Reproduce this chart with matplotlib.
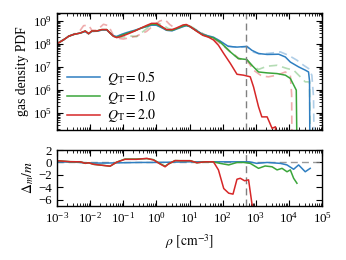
import numpy as np
import matplotlib
matplotlib.use("Agg")
import matplotlib.pyplot as plt
from matplotlib.ticker import LogLocator, NullFormatter

plt.rcParams['font.family'] = ['Liberation Serif', 'DejaVu Serif']
plt.rcParams['mathtext.fontset'] = 'stix'
plt.rcParams['font.size'] = 9

# ---------------- data (log10 values) ----------------
labels = [r'$Q_\mathrm{T} = 0.5$', r'$Q_\mathrm{T} = 1.0$', r'$Q_\mathrm{T} = 2.0$']
colors = ['#2f7fc1', '#3aa53a', '#d62728']

low_x = [-3.0, -2.8, -2.65, -2.5, -2.3, -2.15, -2.05, -1.95, -1.8, -1.65, -1.5, -1.4, -1.3,
         -1.2, -1.05, -0.9, -0.65, -0.45, -0.3, -0.15, 0.0, 0.15, 0.3, 0.47, 0.62, 0.8, 0.9,
         1.0, 1.2, 1.4, 1.57, 1.72]

# solid curves: log10 PDF
red_x = low_x + [1.87, 2.03, 2.23, 2.43, 2.63, 2.83, 2.93, 3.08, 3.18, 3.34, 3.49, 3.59, 3.63]
red_y = [8.02, 8.19, 8.34, 8.42, 8.48, 8.57, 8.45, 8.57, 8.57, 8.63, 8.63, 8.48, 8.34,
         8.28, 8.34, 8.42, 8.57, 8.71, 8.81, 8.90, 8.90, 8.77, 8.63, 8.63, 8.71, 8.83, 8.85,
         8.78, 8.57, 8.38, 8.30, 8.18,
         7.95, 7.59, 7.16, 6.69, 6.65, 6.58, 6.14, 5.28, 4.84, 4.84, 4.34, 4.41, 3.5]

green_x = low_x + [1.92, 2.23, 2.47, 2.73, 2.88, 3.08, 3.34, 3.64, 3.89, 4.04, 4.22, 4.24]
green_y = [8.02, 8.19, 8.34, 8.42, 8.48, 8.57, 8.45, 8.57, 8.57, 8.63, 8.63, 8.48, 8.34,
           8.30, 8.38, 8.46, 8.58, 8.70, 8.78, 8.86, 8.86, 8.75, 8.62, 8.60, 8.68, 8.79, 8.82,
           8.77, 8.58, 8.40, 8.32, 8.27,
           8.09, 7.66, 7.37, 7.33, 7.08, 6.79, 6.75, 6.72, 6.65, 6.51, 6.00, 3.5]

blue_x = low_x + [1.92, 2.17, 2.43, 2.73, 2.88, 3.08, 3.34, 3.69, 3.89, 4.04, 4.29, 4.49,
                  4.59, 4.62, 4.63]
blue_y = [8.02, 8.19, 8.34, 8.42, 8.48, 8.55, 8.45, 8.55, 8.56, 8.61, 8.61, 8.48, 8.36,
          8.33, 8.42, 8.50, 8.60, 8.70, 8.76, 8.82, 8.82, 8.72, 8.60, 8.58, 8.66, 8.76, 8.80,
          8.76, 8.60, 8.42, 8.35, 8.30,
          8.13, 7.90, 7.87, 7.90, 7.73, 7.59, 7.55, 7.56, 7.44, 7.22, 7.01, 6.87,
          6.79, 6.40, 3.5]

# dashed comparison curves: log10 PDF
red_d_x = [-3.0, -2.8, -2.65, -2.5, -2.3, -2.2, -2.05, -1.95, -1.8, -1.6, -1.45, -1.3, -1.15,
           -1.0, -0.8, -0.6, -0.45, -0.3, -0.1, 0.1, 0.25, 0.4, 0.55, 0.7, 0.85, 1.0, 1.2,
           1.4, 1.6, 1.8, 2.0, 2.2, 2.33, 2.47, 2.73, 2.93, 3.18, 3.38, 3.64, 3.89, 4.04,
           4.08, 4.09]
red_d_y = [8.00, 8.20, 8.35, 8.42, 8.60, 8.80, 8.82, 8.60, 8.60, 8.86, 8.80, 8.38, 8.25,
           8.22, 8.28, 8.35, 8.45, 8.55, 8.80, 9.00, 9.07, 8.85, 8.70, 8.72, 8.80, 8.76, 8.60,
           8.45, 8.30, 8.15, 7.95, 7.70, 7.59, 7.37, 7.30, 6.87, 6.61, 6.58, 6.65, 6.79, 6.65,
           5.80, 3.5]

green_d_x = [-3.0, -2.8, -2.65, -2.5, -2.3, -2.15, -2.05, -1.95, -1.8, -1.65, -1.5, -1.4, -1.3,
             -1.2, -1.05, -0.9, -0.75, -0.6, -0.4, -0.25, -0.1, 0.05, 0.2, 0.35, 0.5, 0.65,
             0.8, 0.95, 1.1, 1.3, 1.5, 1.7, 1.9, 2.1, 2.3, 2.5, 2.73, 2.88, 3.08, 3.34, 3.64,
             3.94, 4.14, 4.34, 4.49, 4.62, 4.64]
green_d_y = [8.02, 8.20, 8.34, 8.42, 8.48, 8.55, 8.47, 8.56, 8.57, 8.62, 8.62, 8.48, 8.35,
             8.30, 8.30, 8.32, 8.35, 8.32, 8.55, 8.72, 8.85, 8.90, 8.82, 8.68, 8.62, 8.68,
             8.80, 8.83, 8.72, 8.52, 8.38, 8.28, 8.10, 7.85, 7.55, 7.38, 7.30, 7.08, 6.90,
             7.04, 7.08, 6.94, 6.87, 6.58, 6.36, 6.36, 3.5]

blue_d_x = low_x + [1.9, 2.1, 2.3, 2.5, 2.73, 2.93, 3.1, 3.34, 3.74, 3.99, 4.24, 4.44, 4.59,
                    4.69, 4.74, 4.76]
blue_d_y = [8.02, 8.19, 8.34, 8.42, 8.48, 8.55, 8.45, 8.55, 8.56, 8.61, 8.61, 8.48, 8.36,
            8.33, 8.42, 8.50, 8.60, 8.70, 8.76, 8.82, 8.82, 8.72, 8.60, 8.58, 8.66, 8.76, 8.80,
            8.76, 8.60, 8.42, 8.35, 8.30,
            8.15, 7.95, 7.88, 7.86, 7.88, 7.65, 7.58, 7.59, 7.66, 7.51, 7.30, 7.08, 6.94,
            6.65, 5.71, 3.5]

# bottom panel: Delta_m / m
dm_red_x = [-3.0, -2.6, -2.3, -2.15, -2.05, -1.9, -1.4, -1.2, -0.95, -0.6, -0.29, -0.09, 0.11,
            0.26, 0.36, 0.56, 0.72, 1.02, 1.22, 1.47, 1.72, 1.87, 2.03, 2.18, 2.31, 2.43, 2.53,
            2.66, 2.78, 2.88, 2.95]
dm_red_y = [0.28, 0.12, 0.10, -0.14, -0.05, -0.30, -0.60, 0.05, 0.50, 0.50, 0.65, 0.40, -0.25,
            -0.70, -0.25, 0.30, 0.28, 0.28, -0.05, 0.10, 0.10, -1.2, -4.2, -4.95, -5.1, -2.7,
            -2.55, -2.95, -2.8, -6.6, -8.0]

dm_green_x = [-3.0, -2.6, -2.3, -2.15, -2.05, -1.9, -1.4, -1.2, -0.95, -0.6, -0.29, -0.09, 0.11,
              0.26, 0.36, 0.56, 0.72, 1.02, 1.22, 1.47, 1.72, 1.92, 2.18, 2.43, 2.63, 2.83,
              3.08, 3.28, 3.49, 3.64, 3.79, 3.94, 4.04, 4.14, 4.24]
dm_green_y = [0.28, 0.12, 0.10, -0.14, -0.05, -0.30, -0.60, 0.05, 0.55, 0.55, 0.62, 0.45, -0.20,
              -0.60, -0.25, 0.30, 0.28, 0.28, -0.05, 0.10, 0.10, -0.15, -0.40, 0.0, 0.0, -0.15,
              -0.95, -0.57, -0.70, -1.2, -0.95, -1.5, -1.2, -2.55, -3.35]

dm_blue_x = [-3.0, -2.5, -2.0, -1.5, -1.0, -0.5, 0.0, 0.5, 1.0, 1.5, 2.0, 2.5, 2.8, 3.03, 3.34,
             3.74, 3.94, 4.14, 4.29, 4.49, 4.64]
dm_blue_y = [0.10, 0.05, -0.10, -0.10, -0.05, 0.0, 0.0, 0.05, 0.10, 0.10, 0.10, 0.10, 0.10,
             -0.15, 0.0, -0.15, -0.40, -1.1, -0.40, -1.5, -0.95]

rho_crit = 500.0
pdf_ticks = [5, 6, 7, 8, 9]
rho_ticks = [-3, -2, -1, 0, 1, 2, 3, 4, 5]

# ---------------- figure ----------------
fig = plt.figure(figsize=(3.46, 2.60), dpi=100)
ax1 = fig.add_axes([0.165, 0.50, 0.766, 0.45])
ax2 = fig.add_axes([0.165, 0.208, 0.766, 0.215])

p = lambda a: np.power(10.0, np.asarray(a, dtype=float))

solid = [(blue_x, blue_y), (green_x, green_y), (red_x, red_y)]
dashed = [(blue_d_x, blue_d_y), (green_d_x, green_d_y), (red_d_x, red_d_y)]

for (dx, dy), c in zip(dashed, colors):
    ax1.plot(p(dx), p(dy), color=c, alpha=0.38, lw=1.2, ls=(0, (5, 3)))
for (sx, sy), c, lab in zip(solid, colors, labels):
    ax1.plot(p(sx), p(sy), color=c, lw=1.1, label=lab)

ax1.axvline(rho_crit, color='gray', lw=1.0, ls=(0, (5, 3)))
ax1.set_xscale('log')
ax1.set_yscale('log')
ax1.set_xlim(1e-3, 1e5)
ax1.set_ylim(10 ** 4.27, 10 ** 9.35)
ax1.set_yticks(p(pdf_ticks))
ax1.yaxis.set_minor_locator(LogLocator(base=10, subs=np.arange(2, 10), numticks=50))
ax1.yaxis.set_minor_formatter(NullFormatter())
ax1.set_ylabel('gas density PDF', fontsize=9.8, labelpad=3)
ax1.tick_params(labelbottom=False)
leg = ax1.legend(loc='lower left', frameon=False, fontsize=10, handlelength=2.4,
                 handletextpad=0.5, labelspacing=0.1, borderaxespad=0.3,
                 bbox_to_anchor=(0.0, -0.035))

dm = [(dm_blue_x, dm_blue_y), (dm_green_x, dm_green_y), (dm_red_x, dm_red_y)]
ax2.axhline(0, color='gray', lw=1.0, ls=(0, (5, 3)), alpha=0.8)
ax2.axvline(rho_crit, color='gray', lw=1.0, ls=(0, (5, 3)))
for (mx, my), c in zip(dm, colors):
    ax2.plot(p(mx), my, color=c, lw=1.1)
ax2.set_xscale('log')
ax2.set_xlim(1e-3, 1e5)
ax2.set_ylim(-7, 2)
ax2.set_yticks([2, 0, -2, -4, -6])
ax2.set_ylabel(r'$\Delta_m/m$', fontsize=9.8, labelpad=2)
ax2.set_xlabel(r'$\rho\ [\mathrm{cm}^{-3}]$', fontsize=9.8, labelpad=5)

for ax in (ax1, ax2):
    ax.set_xticks(p(rho_ticks))
    ax.xaxis.set_minor_locator(LogLocator(base=10, subs=np.arange(2, 10), numticks=50))
    ax.xaxis.set_minor_formatter(NullFormatter())
    ax.set_xlim(1e-3, 1e5)
    ax.tick_params(which='both', direction='in', top=True, right=True, labelsize=9.3)
    ax.tick_params(which='major', length=4, width=0.8)
    ax.tick_params(which='minor', length=2, width=0.6)
    for s in ax.spines.values():
        s.set_linewidth(1.0)
ax1.tick_params(labelbottom=False)

fig.savefig('out.png', dpi=100)
